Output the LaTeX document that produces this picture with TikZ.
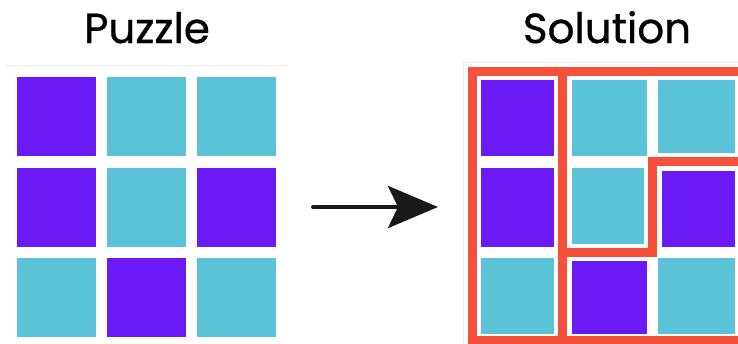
\documentclass[tikz,border=0pt]{standalone}
\usepackage{fontspec}
\setmainfont{Poppins}[FakeBold=0.8]
\usetikzlibrary{arrows.meta}

\definecolor{tilepurple}{RGB}{107,26,245}
\definecolor{tileteal}{RGB}{91,195,215}
\definecolor{cutred}{RGB}{245,80,58}
\definecolor{framegray}{RGB}{236,236,236}

\begin{document}
\begin{tikzpicture}[x=1pt,y=-1pt,>=Stealth,
		title/.style={anchor=base,font=\fontsize{42}{50}\selectfont},
		purpletile/.style={fill=tilepurple},
		tealtile/.style={fill=tileteal},
		cut/.style={draw=cutred,line width=9pt,line join=miter},
		frame/.style={draw=framegray,line width=1pt}]
		\useasboundingbox (0,0) rectangle (738,343);
		\clip (0,0) rectangle (738,343);

		% Titles
		\node[title] (puzzle) at (147,43) {Puzzle};
		\node[title] (solution) at (607,43) {Solution};

		% Frames
		\draw[frame] (6,65) -- (288,65);
		\draw[frame] (463,350) -- (463,62) -- (750,62);

		% Puzzle grid
		\fill[purpletile] (17,77) rectangle (96,156);
		\fill[tealtile] (107,77) rectangle (186,156);
		\fill[tealtile] (197,77) rectangle (276,156);
		\fill[purpletile] (17,168) rectangle (96,247);
		\fill[tealtile] (107,168) rectangle (186,247);
		\fill[purpletile] (197,168) rectangle (276,247);
		\fill[tealtile] (17,258) rectangle (96,337);
		\fill[purpletile] (107,258) rectangle (186,337);
		\fill[tealtile] (197,258) rectangle (276,337);

		% Solution grid
		\fill[purpletile] (481,80) rectangle (554,156);
		\fill[tealtile] (572,80) rectangle (647,156);
		\fill[tealtile] (658,80) rectangle (735,153);
		\fill[purpletile] (481,168) rectangle (554,247);
		\fill[tealtile] (572,168) rectangle (644,244);
		\fill[purpletile] (662,171) rectangle (735,247);
		\fill[tealtile] (481,258) rectangle (554,334);
		\fill[purpletile] (572,261) rectangle (647,334);
		\fill[tealtile] (658,258) rectangle (735,334);

		% Cuts
		\draw[cut] (472.5,71.5) rectangle (760,340);
		\draw[cut] (562.5,71.5) -- (562.5,340);
		\draw[cut] (562.5,252.5) -- (652.5,252.5) -- (652.5,161.5) -- (760,161.5);

		% Arrow
		\coordinate (arrowstart) at (313,207);
		\coordinate (arrowend) at (438,207);
		\draw[-{Stealth[length=50pt,width=42pt,inset=10pt]},line width=4pt,line cap=round,color=black!90] (arrowstart) -- (arrowend);
	\end{tikzpicture}
\end{document}
